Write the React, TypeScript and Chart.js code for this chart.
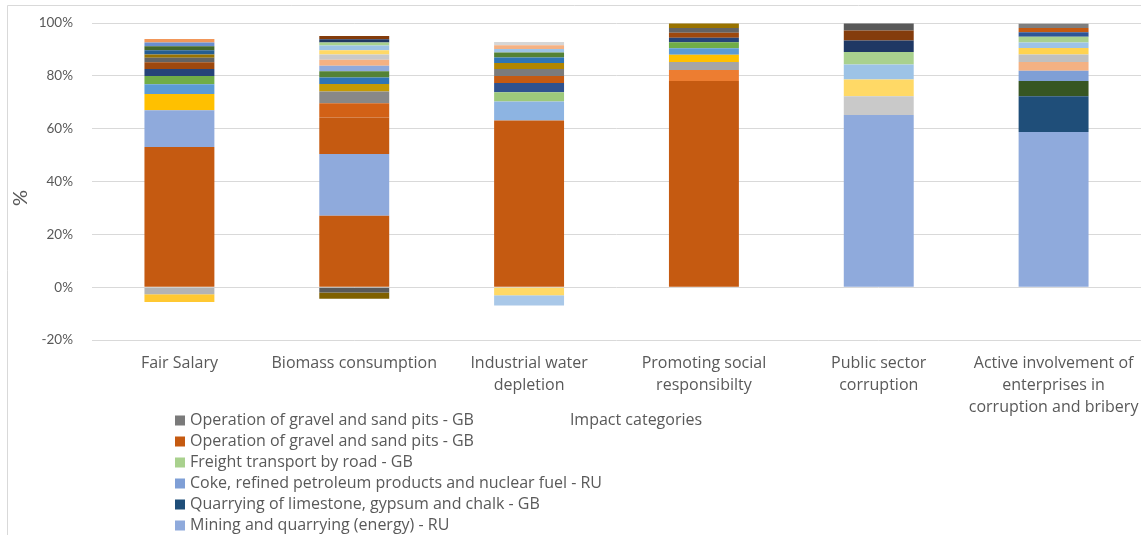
import { useEffect, useRef } from "react";
import { Chart, registerables } from "chart.js";

Chart.register(...registerables);

// Impact categories along the x axis (multi-line labels)
const categories: string[][] = [
  ["Fair Salary"],
  ["Biomass consumption"],
  ["Industrial water", "depletion"],
  ["Promoting social", "responsibilty"],
  ["Public sector", "corruption"],
  ["Active involvement of", "enterprises in", "corruption and bribery"],
];

// Contributions (%) per category, listed from the zero line outwards
const fairSalaryUp = [53.1, 13.9, 6.1, 3.7, 3.1, 2.7, 2.5, 1.7, 1.3, 1.6, 1.5, 1.4, 1.3];
const fairSalaryDown = [-2.7, -2.9];
const biomassUp = [27.0, 23.4, 13.8, 5.4, 4.5, 2.8, 2.5, 2.3, 2.1, 2.3, 2.0, 1.6, 1.8, 1.1, 1.25, 1.25];
const biomassDown = [-2.0, -2.4];
const waterUp = [63.1, 7.2, 3.5, 3.5, 2.65, 2.65, 2.3, 2.0, 1.9, 1.4, 1.4, 1.25];
const waterDown = [-3.1, -3.8];
const responsibilityUp = [78.0, 4.2, 3.0, 2.8, 2.4, 2.3, 1.75, 1.9, 1.75, 1.7];
const responsibilityDown: number[] = [];
const publicCorruptionUp = [65.2, 7.1, 6.3, 5.7, 4.7, 4.4, 3.8, 2.65];
const publicCorruptionDown: number[] = [];
const briberyUp = [58.7, 13.6, 5.7, 3.9, 3.3, 2.9, 2.4, 2.15, 2.1, 1.75, 1.6, 1.6];
const briberyDown: number[] = [];

// Fill colours for each segment, same order as the values above
const fairSalaryUpColors = ["#C55A11", "#8FAADC", "#FFC000", "#5B9BD5", "#70AD47", "#264478", "#9E480E", "#636363", "#997300", "#255E91", "#43682B", "#698ED0", "#F1975A"];
const fairSalaryDownColors = ["#B3B3B3", "#FFC832"];
const biomassUpColors = ["#C55A11", "#8FAADC", "#C55A11", "#D26116", "#888888", "#C49A05", "#2E75B6", "#548235", "#8FAADC", "#F4B183", "#C9C9C9", "#FFD966", "#9DC3E6", "#A9D18E", "#203864", "#843C0C"];
const biomassDownColors = ["#595959", "#7F6000"];
const waterUpColors = ["#C55A11", "#8DB4E2", "#9DC97B", "#2F528F", "#C55A11", "#7B7B7B", "#B38600", "#2E75B6", "#548235", "#9DC3E6", "#F4B183", "#D6D6D6"];
const waterDownColors = ["#FFD966", "#A9C8E8"];
const responsibilityUpColors = ["#C55A11", "#ED7D31", "#A5A5A5", "#FFC000", "#5B9BD5", "#70AD47", "#264478", "#9E480E", "#636363", "#997300"];
const responsibilityDownColors: string[] = [];
const publicCorruptionUpColors = ["#8FAADC", "#C9C9C9", "#FFD966", "#9DC3E6", "#A9D18E", "#1F3864", "#843C0C", "#595959"];
const publicCorruptionDownColors: string[] = [];
const briberyUpColors = ["#8FAADC", "#1F4E79", "#375623", "#7F9FD6", "#F4B183", "#C0C0C0", "#FFD34F", "#9DC3E6", "#A9D18E", "#2F5597", "#C55A11", "#7F7F7F"];
const briberyDownColors: string[] = [];

// Y axis range and ticks
const yMin = -20;
const yMax = 100;
const yStep = 20;

// Legend entries (series names)
const legendNames = [
  "Operation of gravel and sand pits - GB",
  "Operation of gravel and sand pits - GB",
  "Freight transport by road - GB",
  "Coke, refined petroleum products and nuclear fuel - RU",
  "Quarrying of limestone, gypsum and chalk - GB",
  "Mining and quarrying (energy) - RU",
];
const legendColors = ["#7A7A7A", "#C55A11", "#A9D18E", "#7F9FD6", "#1F4E79", "#8FAADC"];

const xTitle = "Impact categories";
const yTitle = "%";

const FONT = "'Open Sans', 'Noto Sans', sans-serif";
const TICK_FONT = "Lato, 'Open Sans', sans-serif";
const TEXT = "#595959";
const GRID = "#D9D9D9";

const upSets = [fairSalaryUp, biomassUp, waterUp, responsibilityUp, publicCorruptionUp, briberyUp];
const downSets = [fairSalaryDown, biomassDown, waterDown, responsibilityDown, publicCorruptionDown, briberyDown];
const upColorSets = [fairSalaryUpColors, biomassUpColors, waterUpColors, responsibilityUpColors, publicCorruptionUpColors, briberyUpColors];
const downColorSets = [fairSalaryDownColors, biomassDownColors, waterDownColors, responsibilityDownColors, publicCorruptionDownColors, briberyDownColors];

function buildDatasets() {
  const datasets: any[] = [];
  const addLayers = (sets: number[][], colorSets: string[][], prefix: string) => {
    const depth = Math.max(...sets.map((s) => s.length));
    for (let i = 0; i < depth; i++) {
      datasets.push({
        label: `${prefix} ${i + 1}`,
        data: sets.map((s) => (i < s.length ? s[i] : null)),
        backgroundColor: colorSets.map((c) => c[i] ?? "rgba(0,0,0,0)"),
        borderWidth: 0,
        stack: "total",
        barPercentage: 0.4,
        categoryPercentage: 1,
      });
    }
  };
  addLayers(upSets, upColorSets, "up");
  addLayers(downSets, downColorSets, "down");
  return datasets;
}

const decorations = {
  id: "decorations",
  beforeDraw(chart: any) {
    const { ctx, width, height } = chart;
    ctx.save();
    ctx.fillStyle = "#FFFFFF";
    ctx.fillRect(0, 0, width, height);
    ctx.strokeStyle = GRID;
    ctx.lineWidth = 1;
    ctx.beginPath();
    ctx.moveTo(7.5, height + 2);
    ctx.lineTo(7.5, 5.5);
    ctx.lineTo(width + 2, 5.5);
    ctx.stroke();
    ctx.restore();
  },
  afterDraw(chart: any) {
    const { ctx } = chart;
    ctx.save();
    ctx.fillStyle = TEXT;
    // y axis title
    ctx.save();
    ctx.translate(21, 198);
    ctx.rotate(-Math.PI / 2);
    ctx.font = `20px ${TICK_FONT}`;
    ctx.textAlign = "center";
    ctx.textBaseline = "middle";
    ctx.fillText(yTitle, 0, 0);
    ctx.restore();
    // x axis title
    ctx.font = `16px ${FONT}`;
    ctx.textAlign = "center";
    ctx.textBaseline = "middle";
    ctx.fillText(xTitle, 636, 420);
    // legend
    ctx.textAlign = "left";
    legendNames.forEach((name, i) => {
      const cy = 420.5 + i * 21;
      ctx.fillStyle = legendColors[i];
      ctx.fillRect(175, cy - 5, 10, 10);
      ctx.fillStyle = TEXT;
      ctx.fillText(name, 190, cy);
    });
    ctx.restore();
  },
};

export default function App() {
  const canvasRef = useRef<HTMLCanvasElement | null>(null);

  useEffect(() => {
    if (!canvasRef.current) return;
    const chart = new Chart(canvasRef.current, {
      type: "bar",
      data: { labels: categories as any, datasets: buildDatasets() },
      options: {
        responsive: false,
        animation: false,
        layout: { padding: { top: 23, right: 0, bottom: 0, left: 0 } },
        plugins: { legend: { display: false }, tooltip: { enabled: false } },
        scales: {
          x: {
            stacked: true,
            grid: { display: false, drawTicks: false },
            border: { display: false },
            ticks: {
              color: TEXT,
              font: { family: FONT, size: 16, lineHeight: 22 / 16 },
              padding: 12,
              maxRotation: 0,
              autoSkip: false,
            },
            afterFit: (scale: any) => {
              scale.height = 195;
              scale.paddingLeft = 0;
              scale.paddingRight = 0;
            },
          },
          y: {
            stacked: true,
            min: yMin,
            max: yMax,
            grid: { color: GRID, lineWidth: 1, drawTicks: false },
            border: { display: false },
            ticks: {
              stepSize: yStep,
              color: TEXT,
              font: { family: TICK_FONT, size: 13.5 },
              padding: 19,
              callback: (v: any) => `${v}%`,
            },
            afterFit: (scale: any) => {
              scale.width = 92;
              scale.paddingTop = 0;
              scale.paddingBottom = 0;
            },
          },
        },
      },
      plugins: [decorations],
    });
    return () => chart.destroy();
  }, []);

  return (
    <div style={{ position: "fixed", left: 0, top: 0, width: 1141, height: 535, background: "#fff" }}>
      <canvas ref={canvasRef} width={1141} height={535} style={{ width: 1141, height: 535, display: "block" }} />
    </div>
  );
}
